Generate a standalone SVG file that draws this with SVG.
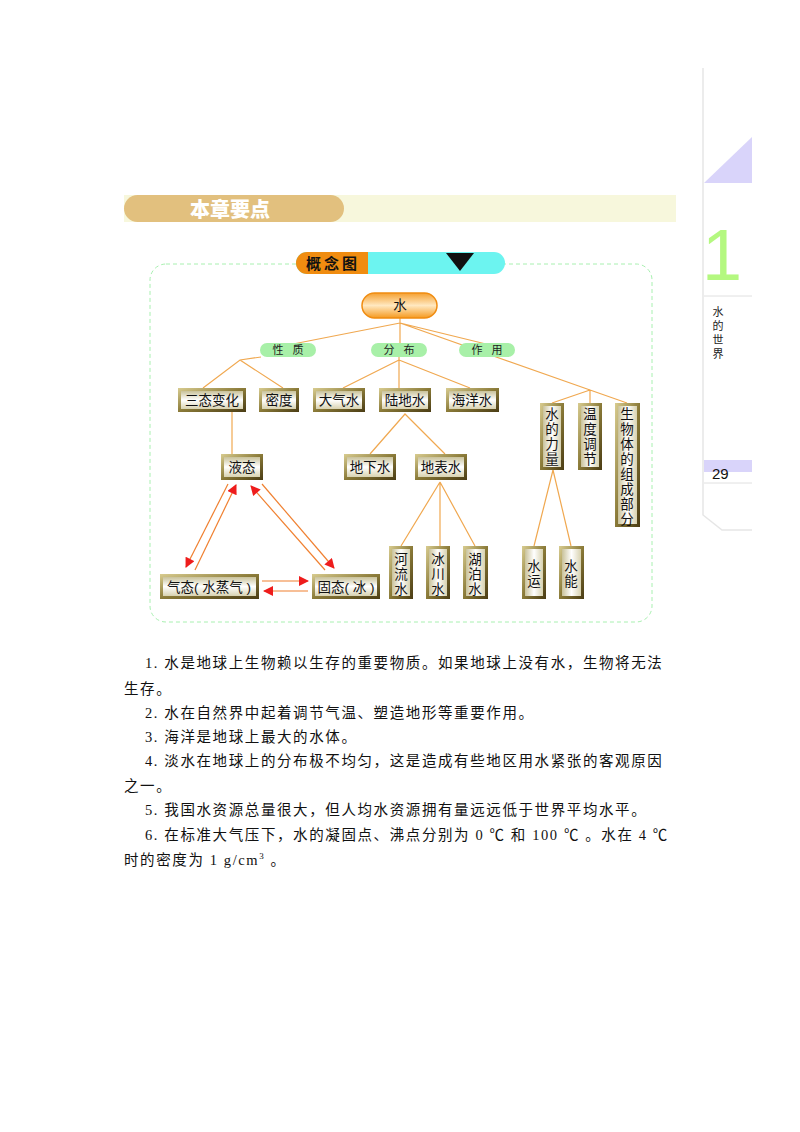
<svg xmlns="http://www.w3.org/2000/svg" width="800" height="1132" viewBox="0 0 800 1132">
<defs>
<linearGradient id="gold" x1="0" y1="0" x2="1" y2="1"><stop offset="0" stop-color="#d8cc90"/><stop offset="0.5" stop-color="#8a7a38"/><stop offset="1" stop-color="#4a3c14"/></linearGradient>
<linearGradient id="inner" x1="0" y1="0" x2="0" y2="1"><stop offset="0" stop-color="#c9c29a"/><stop offset="0.5" stop-color="#ffffff"/><stop offset="1" stop-color="#d8d2b0"/></linearGradient>
<linearGradient id="innerV" x1="0" y1="0" x2="1" y2="0"><stop offset="0" stop-color="#c9c29a"/><stop offset="0.5" stop-color="#ffffff"/><stop offset="1" stop-color="#d8d2b0"/></linearGradient>
<linearGradient id="orange" x1="0" y1="0" x2="0" y2="1"><stop offset="0" stop-color="#f5a030"/><stop offset="0.5" stop-color="#ffe8c0"/><stop offset="1" stop-color="#f59a20"/></linearGradient>
<marker id="ah" viewBox="0 0 10 10" refX="9" refY="5" markerWidth="11" markerHeight="10" orient="auto" markerUnits="userSpaceOnUse"><path d="M0,0 L10,5 L0,10 z" fill="#ee1c1c"/></marker>
</defs>
<style>
.cn{font-family:"Liberation Sans","Noto Sans CJK SC",sans-serif;font-size:13.5px;fill:#111;text-anchor:middle}
.lbl{font-family:"Liberation Sans","Noto Sans CJK SC",sans-serif;font-size:11px;fill:#222;text-anchor:middle}
.body{font-family:"Liberation Serif","Noto Sans CJK SC",serif;font-size:14.5px;fill:#111;letter-spacing:1.6px}
.ln{stroke:#f0a850;stroke-width:1.2;fill:none}
.ar{stroke:#f08030;stroke-width:1.2;fill:none;marker-end:url(#ah)}
.pill{fill:#a8f0a8}
</style>

<rect x="124" y="195" width="552" height="27" fill="#f7f7dc"/>
<rect x="124" y="195" width="220" height="27" rx="13.5" fill="#e2c07e"/>
<text x="230" y="217" font-family="'Noto Sans CJK SC',sans-serif" font-size="20" font-weight="900" fill="#fff" text-anchor="middle">本章要点</text>

<path d="M703,68 V515 L722,530 H752" stroke="#e6e6e6" stroke-width="1.5" fill="none"/>
<polygon points="704,183 752,137 752,183" fill="#d9d4fa"/>
<text x="722" y="280" font-family="'Liberation Sans',sans-serif" font-size="72" fill="#b4f880" text-anchor="middle">1</text>
<line x1="704" y1="296" x2="752" y2="296" stroke="#e0e0e0"/>
<text font-family="'Noto Sans CJK SC',sans-serif" font-size="11" fill="#222" text-anchor="middle"><tspan x="718" y="316">水</tspan><tspan x="718" y="330">的</tspan><tspan x="718" y="344">世</tspan><tspan x="718" y="358">界</tspan></text>
<rect x="704" y="460" width="48" height="12" fill="#d9d4fa"/>
<text x="712" y="479" font-family="'Liberation Sans',sans-serif" font-size="15" fill="#111">29</text>
<line x1="704" y1="483" x2="752" y2="483" stroke="#e0e0e0"/>

<rect x="150" y="264" width="502" height="358" rx="16" fill="none" stroke="#a8f0b0" stroke-dasharray="4,3"/>
<g id="title">
<rect x="296" y="252" width="209" height="22" rx="11" fill="#6cf4f0"/>
<path d="M307,252 H368 V274 H307 A11,11 0 0 1 307,252 z" fill="#f08c10"/>
<text x="333" y="269" font-family="'Noto Sans CJK SC',sans-serif" font-size="15" font-weight="bold" fill="#111" text-anchor="middle" letter-spacing="3">概念图</text>
<polygon points="446,253 474,253 460,271" fill="#111"/>
</g>

<g id="connectors">
<path class="ln" d="M400,318 V343 M400,323 L288,345 M400,323 L490,345 M400,323 L590,390"/>
<path class="ln" d="M261,357 L240,360 L203,388 M240,360 L283,388"/>
<path class="ln" d="M399,357 V388 M399,360 L343,388 M399,360 L470,388"/>
<path class="ln" d="M590,390 L552,403 M590,390 V403 M590,390 L627,403"/>
<path class="ln" d="M232,412 V454"/>
<path class="ln" d="M370,454 L405,414 L445,454"/>
<path class="ln" d="M440,482 L401,546 M440,482 V546 M440,482 L475,546"/>
<path class="ln" d="M553,470 L534,546 M553,470 L571,546"/>
<line class="ar" x1="228" y1="484" x2="186" y2="567"/>
<line class="ar" x1="195" y1="570" x2="236" y2="485"/>
<line class="ar" x1="262" y1="484" x2="334" y2="568"/>
<line class="ar" x1="325" y1="570" x2="251" y2="486"/>
<line class="ar" x1="262" y1="581" x2="308" y2="581"/>
<line class="ar" x1="308" y1="591" x2="264" y2="591"/>
</g>

<g id="n-water"><rect x="362" y="293" width="75" height="25" rx="12.5" fill="url(#orange)" stroke="#f08c10" stroke-width="1.5"/><text class="cn" x="400" y="310">水</text></g>
<g id="l-xz"><rect class="pill" x="260" y="343" width="56" height="14" rx="7"/><text class="lbl" x="288" y="354" xml:space="preserve">性   质</text></g>
<g id="l-fb"><rect class="pill" x="371" y="343" width="56" height="14" rx="7"/><text class="lbl" x="399" y="354" xml:space="preserve">分   布</text></g>
<g id="l-zy"><rect class="pill" x="459" y="343" width="56" height="14" rx="7"/><text class="lbl" x="487" y="354" xml:space="preserve">作   用</text></g>

<g id="n1"><rect x="178" y="388" width="68" height="24" fill="url(#gold)"/><rect x="181" y="391" width="62" height="18" fill="url(#inner)"/><text class="cn" x="212" y="405">三态变化</text></g>
<g id="n2"><rect x="259" y="388" width="40" height="24" fill="url(#gold)"/><rect x="262" y="391" width="34" height="18" fill="url(#inner)"/><text class="cn" x="279" y="405">密度</text></g>
<g id="n3"><rect x="313" y="388" width="52" height="24" fill="url(#gold)"/><rect x="316" y="391" width="46" height="18" fill="url(#inner)"/><text class="cn" x="339" y="405">大气水</text></g>
<g id="n4"><rect x="379" y="388" width="52" height="24" fill="url(#gold)"/><rect x="382" y="391" width="46" height="18" fill="url(#inner)"/><text class="cn" x="405" y="405">陆地水</text></g>
<g id="n5"><rect x="446" y="388" width="53" height="24" fill="url(#gold)"/><rect x="449" y="391" width="47" height="18" fill="url(#inner)"/><text class="cn" x="472" y="405">海洋水</text></g>
<g id="n6"><rect x="221" y="454" width="42" height="26" fill="url(#gold)"/><rect x="224" y="457" width="36" height="20" fill="url(#inner)"/><text class="cn" x="242" y="472">液态</text></g>
<g id="n7"><rect x="344" y="454" width="52" height="26" fill="url(#gold)"/><rect x="347" y="457" width="46" height="20" fill="url(#inner)"/><text class="cn" x="370" y="472">地下水</text></g>
<g id="n8"><rect x="415" y="454" width="52" height="26" fill="url(#gold)"/><rect x="418" y="457" width="46" height="20" fill="url(#inner)"/><text class="cn" x="441" y="472">地表水</text></g>
<g id="n9"><rect x="160" y="574" width="99" height="25" fill="url(#gold)"/><rect x="163" y="577" width="93" height="19" fill="url(#inner)"/><text class="cn" x="209" y="592">气态( 水蒸气 )</text></g>
<g id="n10"><rect x="312" y="574" width="68" height="25" fill="url(#gold)"/><rect x="315" y="577" width="62" height="19" fill="url(#inner)"/><text class="cn" x="346" y="592">固态( 冰 )</text></g>

<g id="n11"><rect x="540" y="403" width="24" height="67" fill="url(#gold)"/><rect x="543" y="406" width="18" height="61" fill="url(#innerV)"/><text class="cn"><tspan x="552" y="419">水</tspan><tspan x="552" y="434">的</tspan><tspan x="552" y="449">力</tspan><tspan x="552" y="464">量</tspan></text></g>
<g id="n12"><rect x="578" y="403" width="24" height="67" fill="url(#gold)"/><rect x="581" y="406" width="18" height="61" fill="url(#innerV)"/><text class="cn"><tspan x="590" y="419">温</tspan><tspan x="590" y="434">度</tspan><tspan x="590" y="449">调</tspan><tspan x="590" y="464">节</tspan></text></g>
<g id="n13"><rect x="615" y="403" width="25" height="124" fill="url(#gold)"/><rect x="618" y="406" width="19" height="118" fill="url(#innerV)"/><text class="cn"><tspan x="627" y="419">生</tspan><tspan x="627" y="434">物</tspan><tspan x="627" y="449">体</tspan><tspan x="627" y="464">的</tspan><tspan x="627" y="479">组</tspan><tspan x="627" y="494">成</tspan><tspan x="627" y="509">部</tspan><tspan x="627" y="524">分</tspan></text></g>
<g id="n14"><rect x="389" y="546" width="24" height="53" fill="url(#gold)"/><rect x="392" y="549" width="18" height="47" fill="url(#innerV)"/><text class="cn"><tspan x="401" y="564">河</tspan><tspan x="401" y="579">流</tspan><tspan x="401" y="594">水</tspan></text></g>
<g id="n15"><rect x="426" y="546" width="24" height="53" fill="url(#gold)"/><rect x="429" y="549" width="18" height="47" fill="url(#innerV)"/><text class="cn"><tspan x="438" y="564">冰</tspan><tspan x="438" y="579">川</tspan><tspan x="438" y="594">水</tspan></text></g>
<g id="n16"><rect x="463" y="546" width="25" height="53" fill="url(#gold)"/><rect x="466" y="549" width="19" height="47" fill="url(#innerV)"/><text class="cn"><tspan x="475" y="564">湖</tspan><tspan x="475" y="579">泊</tspan><tspan x="475" y="594">水</tspan></text></g>
<g id="n17"><rect x="522" y="546" width="24" height="53" fill="url(#gold)"/><rect x="525" y="549" width="18" height="47" fill="url(#innerV)"/><text class="cn"><tspan x="534" y="571">水</tspan><tspan x="534" y="586">运</tspan></text></g>
<g id="n18"><rect x="559" y="546" width="25" height="53" fill="url(#gold)"/><rect x="562" y="549" width="19" height="47" fill="url(#innerV)"/><text class="cn"><tspan x="571" y="571">水</tspan><tspan x="571" y="586">能</tspan></text></g>

<g id="text" class="body">
<text x="145" y="668">1. 水是地球上生物赖以生存的重要物质。如果地球上没有水，生物将无法</text>
<text x="124" y="694">生存。</text>
<text x="145" y="718">2. 水在自然界中起着调节气温、塑造地形等重要作用。</text>
<text x="145" y="742">3. 海洋是地球上最大的水体。</text>
<text x="145" y="766">4. 淡水在地球上的分布极不均匀，这是造成有些地区用水紧张的客观原因</text>
<text x="124" y="791">之一。</text>
<text x="145" y="815">5. 我国水资源总量很大，但人均水资源拥有量远远低于世界平均水平。</text>
<text x="145" y="840">6. 在标准大气压下，水的凝固点、沸点分别为 0 ℃ 和 100 ℃ 。水在 4 ℃</text>
<text x="124" y="865">时的密度为 1 g/cm<tspan font-size="9" dy="-6">3</tspan><tspan dy="6"> 。</tspan></text>
</g>
</svg>
